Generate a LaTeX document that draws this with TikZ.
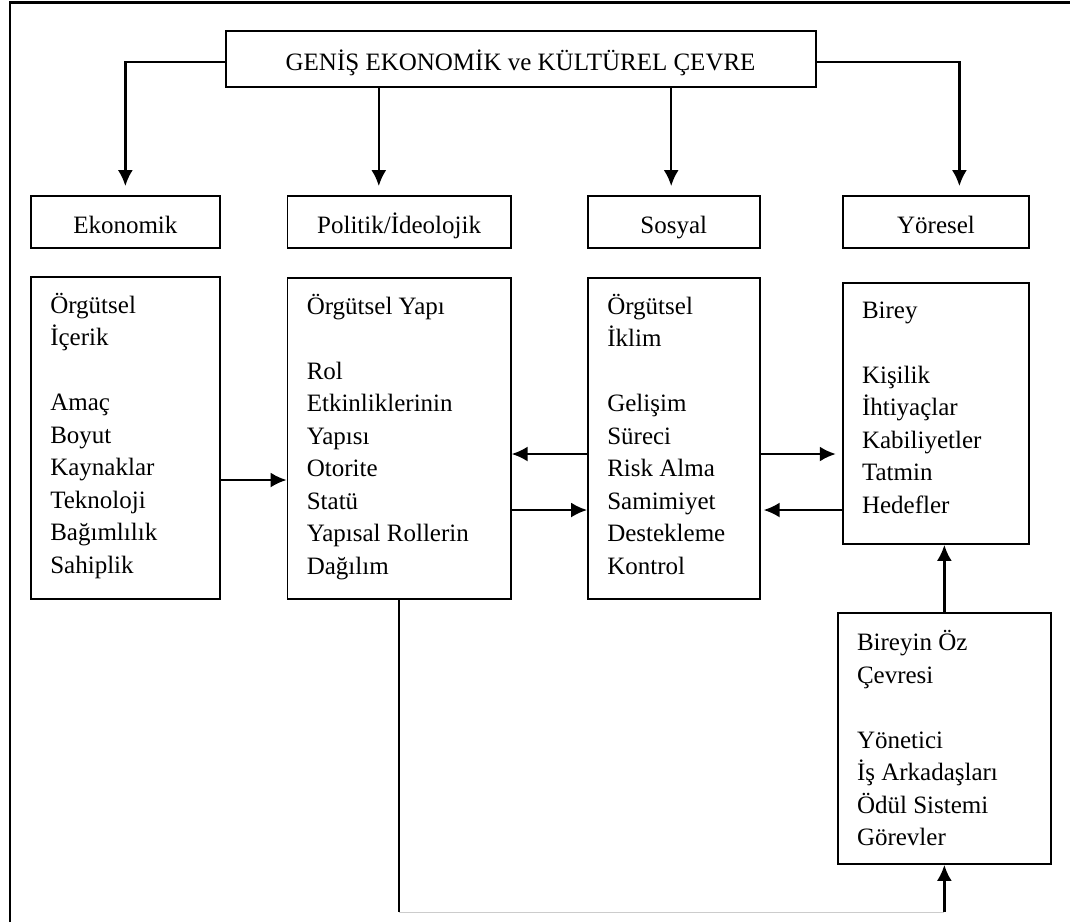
\documentclass[tikz,border=0pt]{standalone}
\usepackage{fontspec}
\setmainfont{Liberation Serif}
\usetikzlibrary{arrows.meta,positioning}
\begin{document}
\begin{tikzpicture}[x=1pt,y=-1pt,
  kutu/.style={draw,line width=1.8pt,inner sep=0pt,font=\fontsize{25}{30}\selectfont,text height=24pt,text depth=2pt},
  yazi/.style={anchor=north west,inner sep=0pt,align=left,font=\fontsize{25}{32.5}\selectfont},
  ok/.style={line width=2.4pt,-{Latex[length=16pt,width=15pt]}}]
\useasboundingbox (0,0) rectangle (1070,922);
\draw[line width=2.5pt] (10,922) |- (1070,2.5);
% ust kutu ve dort alan
\node[kutu,minimum width=590pt,minimum height=56pt] (cevre) at (520.6,59) {GENİŞ EKONOMİK ve KÜLTÜREL ÇEVRE};
\node[kutu,minimum width=188.7pt,minimum height=52pt] (ekoB) at (125.35,222) {Ekonomik};
\node[kutu,minimum width=223.2pt,minimum height=52pt] (polB) at (399.1,222) {Politik/İdeolojik};
\node[kutu,minimum width=171.8pt,minimum height=52pt] (sosB) at (673.8,222) {Sosyal};
\node[kutu,minimum width=186.6pt,minimum height=52pt] (yorB) at (936,222) {Yöresel};
% icerik kutulari
\node[kutu,minimum width=188.7pt,minimum height=322pt] (eko) at (125.35,438) {};
\node[kutu,minimum width=223.2pt,minimum height=321pt] (pol) at (399.1,438.5) {};
\node[kutu,minimum width=171.7pt,minimum height=321pt] (sos) at (673.85,438.5) {};
\node[kutu,minimum width=186.6pt,minimum height=261pt] (bir) at (936,413.5) {};
\node[kutu,minimum width=213.3pt,minimum height=251pt] (oz) at (944.35,738.5) {};
\node[yazi,below right=14.25pt and 20pt of eko.north west] (ekoT) {\strut Örgütsel\\İçerik\\[32.5pt]Amaç\\Boyut\\Kaynaklar\\Teknoloji\\Bağımlılık\\Sahiplik};
\node[yazi,below right=14.25pt and 20pt of pol.north west] (polT) {\strut Örgütsel Yapı\\[32.5pt]Rol\\Etkinliklerinin\\Yapısı\\Otorite\\Statü\\Yapısal Rollerin\\Dağılım};
\node[yazi,below right=14.25pt and 20pt of sos.north west] (sosT) {\strut Örgütsel\\İklim\\[32.5pt]Gelişim\\Süreci\\Risk Alma\\Samimiyet\\Destekleme\\Kontrol};
\node[yazi,below right=13.25pt and 20pt of bir.north west] (birT) {\strut Birey\\[32.5pt]Kişilik\\İhtiyaçlar\\Kabiliyetler\\Tatmin\\Hedefler};
\node[yazi,below right=15.5pt and 20pt of oz.north west] (ozT) {\strut Bireyin Öz\\Çevresi\\[32.5pt]Yönetici\\İş Arkadaşları\\Ödül Sistemi\\Görevler};
% oklar
\draw[ok,shorten >=9pt]([yshift=-3pt]cevre.west)-|(ekoB.north);
\draw[ok,shorten >=9pt]([xshift=-20.3pt]polB.north|-cevre.south)--([xshift=-20.3pt]polB.north);
\draw[ok,shorten >=9pt]([xshift=-2.6pt]sosB.north|-cevre.south)--([xshift=-2.6pt]sosB.north);
\draw[ok,shorten >=9pt]([yshift=-3pt]cevre.east)-|([xshift=23.4pt]yorB.north);
\coordinate(yA)at(0,454);
\coordinate(yB)at(0,510);
\coordinate(yC)at(0,480);
\coordinate(yD)at(0,912);
\draw[ok](eko.east|-yC)--(pol.west|-yC);
\draw[ok](sos.west|-yA)--(pol.east|-yA);
\draw[ok](pol.east|-yB)--(sos.west|-yB);
\draw[ok,shorten >=6pt](sos.east|-yA)--(bir.west|-yA);
\draw[ok,shorten >=3pt](bir.west|-yB)--(sos.east|-yB);
\draw[ok](oz.north)--(oz.north|-bir.south);
\draw[line width=1.5pt](pol.south)--(pol.south|-yD)coordinate(kD);
\draw[gray!40,line width=1pt](kD)--(oz.south|-yD)coordinate(kE);
\draw[ok](kE)--(oz.south);
\end{tikzpicture}
\end{document}
